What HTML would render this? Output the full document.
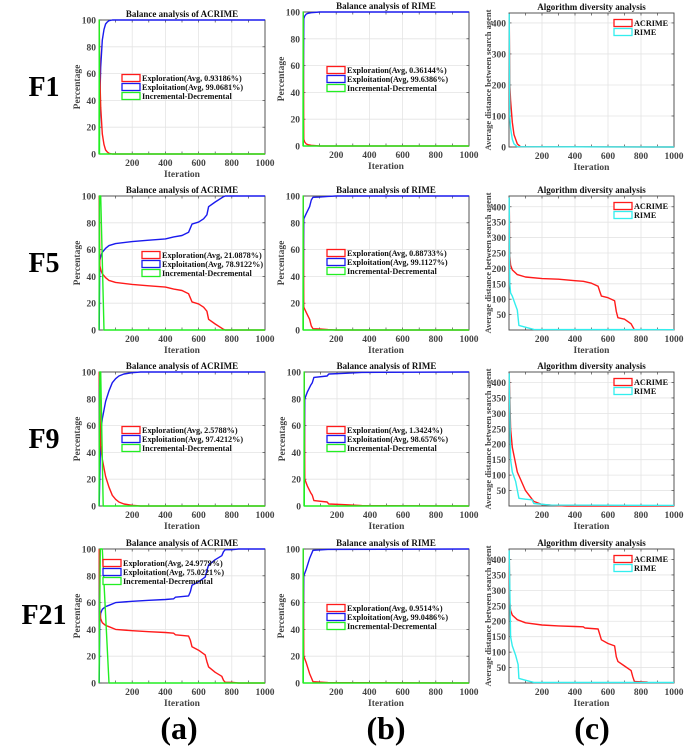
<!DOCTYPE html>
<html><head><meta charset="utf-8">
<style>
html,body{margin:0;padding:0;background:#fff;}
svg{display:block;font-family:"Liberation Serif","Times New Roman",serif;font-weight:bold;}
</style></head>
<body>
<svg id="fig" width="685" height="746" viewBox="0 0 685 746" xmlns="http://www.w3.org/2000/svg">
<text x="44" y="96" font-size="28" text-anchor="middle">F1</text>
<text x="44" y="272" font-size="28" text-anchor="middle">F5</text>
<text x="44" y="448" font-size="28" text-anchor="middle">F9</text>
<text x="44" y="624" font-size="28" text-anchor="middle">F21</text>
<text x="179" y="739" font-size="32" text-anchor="middle">(a)</text>
<text x="386" y="739" font-size="32" text-anchor="middle">(b)</text>
<text x="592" y="739" font-size="32" text-anchor="middle">(c)</text>
</svg>
<script>
// ---- data (iteration, value) ----
const xTicks=[200,400,600,800,1000];
const pctTicks=[0,20,40,60,80,100];
const divTicksF1=[0,100,200,300,400];
const divTicks=[50,100,150,200,250,300,350,400];

const f1aIter=[1,5,10,20,30,40,50,60,80,1000];
const f1aExpl=[100,60,35,15,7,3,1.5,0.5,0,0];
const f1aExpt=[0,40,65,85,93,97,98.5,99.5,100,100];
const f1aIncIter=[0,2,3,1000];
const f1aInc=[0,100,0,0];

const f5aIter=[1,5,10,20,40,60,100,200,300,400,450,500,540,550,560,600,630,650,660,700,750,760,1000];
const f5aExpl=[100,48,45,42,39,37,35.5,34,33,32,30.5,29.5,27,24,21,19.5,17,14,8,4.5,0.5,0,0];
const f5aExpt=[0,52,55,58,61,63,64.5,66,67,68,69.5,70.5,73,76,79,80.5,83,86,92,95.5,99.5,100,100];
const f5aIncIter=[0,3,10,30,1000];
const f5aInc=[0,100,100,0,0];

const f9aIter=[1,10,20,40,60,80,100,120,150,200,250,1000];
const f9aExpl=[100,45,35,22,14,8,5,3,1.5,0.5,0,0];
const f9aExpt=[0,55,65,78,86,92,95,97,98.5,99.5,100,100];
const f9aIncIter=[0,5,10,25,1000];
const f9aInc=[0,100,100,0,0];

const f21aIter=[1,5,10,20,40,60,100,200,300,400,450,460,540,550,560,600,640,650,660,700,740,750,760,800,840,1000];
const f21aExpl=[100,55,48,45,43,42,40,39,38.3,37.7,37.2,36,35,32,27,24.5,21,16,12,8,5,2,0.5,0.5,0,0];
const f21aExpt=[0,45,52,55,57,58,60,61,61.7,62.3,62.8,64,65,68,73,75.5,79,84,88,92,95,98,99.5,99.5,100,100];
const f21aIncIter=[0,8,20,60,1000];
const f21aInc=[0,100,100,0,0];

const f1bIter=[1,5,10,20,30,50,100,1000];
const f1bExpl=[100,5,3,1.5,1,0.5,0,0];
const f1bExpt=[0,95,97,98.5,99,99.5,100,100];
const f5bIter=[1,5,20,40,50,60,100,150,200,1000];
const f5bExpl=[100,17,13,8,3,1,0.8,0.3,0,0];
const f5bExpt=[0,83,87,92,97,99,99.2,99.7,100,100];
const f9bIter=[1,5,20,40,50,60,140,150,250,350,1000];
const f9bExpl=[100,20,15,10,8,4,3,1.5,1,0.3,0];
const f9bExpt=[0,80,85,90,92,96,97,98.5,99,99.7,100];
const f21bIter=[1,5,20,40,50,60,150,1000];
const f21bExpl=[100,20,15,7,4,1,0.3,0];
const f21bExpt=[0,80,85,93,96,99,99.7,100];
const bIncIter=[0,1,2,1000];
const bInc=[0,100,0,0];

const f1cAcIter=[1,5,10,20,30,50,70,1000];
const f1cAc=[430,200,150,80,40,10,1,0];
const f1cRiIter=[1,5,10,20,30,50,1000];
const f1cRi=[430,100,60,25,10,1,0];
const f5cAcIter=[1,5,10,20,50,100,200,300,400,450,500,540,550,560,600,640,650,660,700,740,750,760,1000];
const f5cAc=[430,240,210,195,180,172,167,165,160,158,152,142,125,110,105,95,60,40,35,20,10,1,1];
const f5cRiIter=[1,5,10,20,40,50,60,150,1000];
const f5cRi=[430,150,120,110,80,65,15,2,1];
const f9cAcIter=[1,10,20,50,100,150,200,300,350,1000];
const f9cAc=[430,250,190,110,50,15,5,1,0,0];
const f9cRiIter=[1,10,20,40,60,100,140,150,250,1000];
const f9cRi=[430,150,110,80,25,22,20,8,3,2];
const f21cAcIter=[1,5,10,20,50,100,200,300,400,450,460,540,560,600,640,650,660,700,740,750,760,840];
const f21cAc=[430,260,235,220,205,195,188,185,183,182,178,175,140,128,120,85,70,55,40,20,5,3];
const f21cRiIter=[1,10,20,40,55,60,150,1000];
const f21cRi=[430,150,120,90,60,15,2,2];

const svg=document.getElementById('fig');
const NS='http://www.w3.org/2000/svg';
function mk(tag,attrs,parent){const e=document.createElementNS(NS,tag);for(const k in attrs)e.setAttribute(k,attrs[k]);(parent||svg).appendChild(e);return e;}

function panel(cfg){
  const g=mk('g',{});
  
  
  const L=cfg.l,R=cfg.r,T=cfg.t,B=cfg.b;
  const sx=v=>L+(v/1000)*(R-L);
  const sy=v=>B-(v/cfg.ymax)*(B-T);
  xTicks.forEach(t=>{const l=mk('line',{x1:sx(t),x2:sx(t),y1:T,y2:B,stroke:'#e4e4e4','stroke-width':0.8},g);});
  cfg.yticks.forEach(t=>{const l=mk('line',{x1:L,x2:R,y1:sy(t),y2:sy(t),stroke:'#e4e4e4','stroke-width':0.8},g);});
  const fr=mk('rect',{x:L,y:T,width:R-L,height:B-T,fill:'none',stroke:'#444','stroke-width':0.9},g);
  
  for(let v=100;v<1000;v+=100){mk('line',{x1:sx(v),x2:sx(v),y1:B,y2:B-2.5,stroke:'#444','stroke-width':0.7},g);mk('line',{x1:sx(v),x2:sx(v),y1:T,y2:T+2.5,stroke:'#444','stroke-width':0.7},g);}
  cfg.yticks.forEach(t=>{mk('line',{x1:L,x2:L+2.5,y1:sy(t),y2:sy(t),stroke:'#444','stroke-width':0.7},g);mk('line',{x1:R,x2:R-2.5,y1:sy(t),y2:sy(t),stroke:'#444','stroke-width':0.7},g);});
  xTicks.forEach(t=>{const e=mk('text',{x:sx(t),y:B+12,'font-size':9.5,fill:'#444','text-anchor':'middle'},g);e.textContent=t;});
  cfg.yticks.forEach(t=>{const e=mk('text',{x:L-3,y:sy(t)+3.5,'font-size':9.5,fill:'#444','text-anchor':'end'},g);e.textContent=t;});
  const xl=mk('text',{x:(L+R)/2,y:B+23,'font-size':9.5,fill:'#444','text-anchor':'middle'},g);xl.textContent='Iteration';
  
  const yx=cfg.ylx,yy=(T+B)/2;
  const yl=mk('text',{x:yx,y:yy,'font-size':cfg.ylfs,fill:'#444','text-anchor':'middle',transform:`rotate(-90 ${yx} ${yy})`},g);yl.textContent=cfg.ylabel;
  
  const ti=mk('text',{x:(L+R)/2,y:T-3,'font-size':9,fill:'#111','text-anchor':'middle'},g);ti.textContent=cfg.title;
  
  cfg.series.forEach(s=>{
    const pts=s.x.map((v,i)=>sx(v).toFixed(1)+','+sy(s.y[i]).toFixed(1)).join(' ');
    const p=mk('polyline',{points:pts,fill:'none',stroke:s.c,'stroke-width':1.4,'stroke-linejoin':'round'},g);
    
    
  });
  cfg.leg.items.forEach((it,i)=>{
    const y=cfg.leg.y+i*9;
    const r=mk('rect',{x:cfg.leg.x,y:y-3.5,width:18,height:7,fill:'#fff',stroke:it.c,'stroke-width':1.3},g);
    
    const t=mk('text',{x:cfg.leg.x+20,y:y+3,'font-size':8.2,fill:'#111'},g);t.textContent=it.t;
    
  });
}
const RED='#ff1a1a',BLUE='#1a1aee',GREEN='#22ee22',CYAN='#33eeee';
function balPanel(name,title,l,r,t,b,it,ex,et,ii,inc,lx,ly,a1,a2){
  panel({name,title,l,r,t,b,ymax:100,yticks:pctTicks,ylabel:'Percentage',ylx:l-19,ylfs:9.5,
    series:[{n:'exploitation-line',x:it,y:et,c:BLUE},{n:'exploration-line',x:it,y:ex,c:RED},{n:'incremental-decremental-line',x:ii,y:inc,c:GREEN}],
    leg:{x:lx,y:ly,items:[{c:RED,t:'Exploration(Avg, '+a1+'%)'},{c:BLUE,t:'Exploitation(Avg, '+a2+'%)'},{c:GREEN,t:'Incremental-Decremental'}]}});
}
function divPanel(name,t,b,ymax,yt,ai,ay,ri,ry,ly){
  panel({name,title:'Algorithm diversity analysis',l:509,r:674,t,b,ymax,yticks:yt,ylabel:'Average distance between search agent',ylx:491,ylfs:8.5,
    series:[{n:'acrime-diversity-line',x:ai,y:ay,c:RED},{n:'rime-diversity-line',x:ri,y:ry,c:CYAN}],
    leg:{x:614,y:ly,items:[{c:RED,t:'ACRIME'},{c:CYAN,t:'RIME'}]}});
}
balPanel('f1-acrime-balance','Balance analysis of ACRIME',99,265,20,154,f1aIter,f1aExpl,f1aExpt,f1aIncIter,f1aInc,122,78,'0.93186','99.0681');
balPanel('f5-acrime-balance','Balance analysis of ACRIME',99,265,196,330,f5aIter,f5aExpl,f5aExpt,f5aIncIter,f5aInc,142,255,'21.0878','78.9122');
balPanel('f9-acrime-balance','Balance analysis of ACRIME',99,265,372,506,f9aIter,f9aExpl,f9aExpt,f9aIncIter,f9aInc,122,430,'2.5788','97.4212');
balPanel('f21-acrime-balance','Balance analysis of ACRIME',99,265,549,683,f21aIter,f21aExpl,f21aExpt,f21aIncIter,f21aInc,103,563,'24.9779','75.0221');
balPanel('f1-rime-balance','Balance analysis of RIME',303,469,12,146,f1bIter,f1bExpl,f1bExpt,bIncIter,bInc,327,70,'0.36144','99.6386');
balPanel('f5-rime-balance','Balance analysis of RIME',303,469,196,330,f5bIter,f5bExpl,f5bExpt,bIncIter,bInc,327,253,'0.88733','99.1127');
balPanel('f9-rime-balance','Balance analysis of RIME',304,469,372,506,f9bIter,f9bExpl,f9bExpt,bIncIter,bInc,327,430,'1.3424','98.6576');
balPanel('f21-rime-balance','Balance analysis of RIME',303,469,549,683,f21bIter,f21bExpl,f21bExpt,bIncIter,bInc,327,608,'0.9514','99.0486');
divPanel('f1-diversity',13,147,432,divTicksF1,f1cAcIter,f1cAc,f1cRiIter,f1cRi,23);
divPanel('f5-diversity',196,330,435,divTicks,f5cAcIter,f5cAc,f5cRiIter,f5cRi,206);
divPanel('f9-diversity',372,506,434,divTicks,f9cAcIter,f9cAc,f9cRiIter,f9cRi,382);
divPanel('f21-diversity',549,683,434,divTicks,f21cAcIter,f21cAc,f21cRiIter,f21cRi,559);
</script>
</body></html>
